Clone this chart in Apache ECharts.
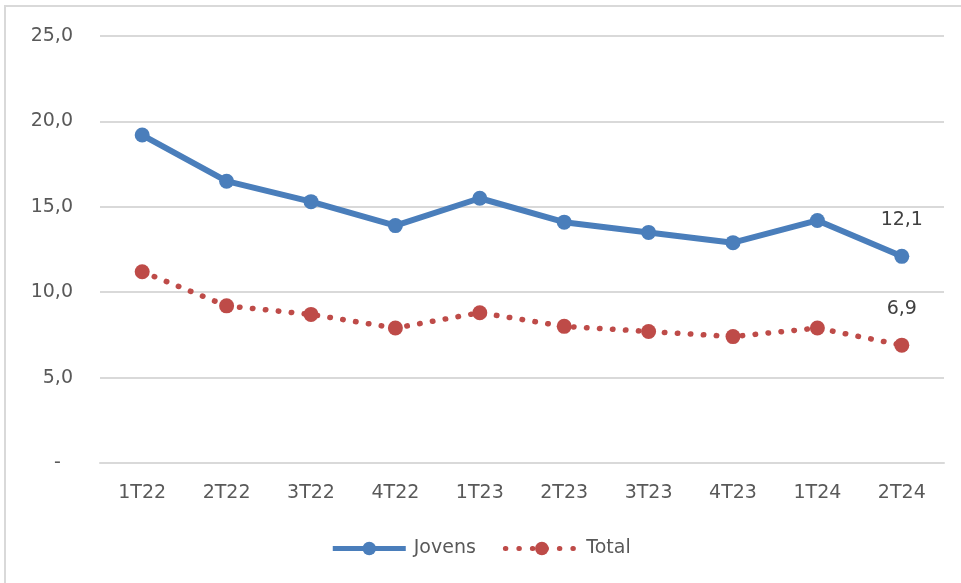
<!DOCTYPE html>
<html>
<head>
<meta charset="utf-8">
<script src="https://cdn.jsdelivr.net/npm/echarts@6/dist/echarts.min.js"></script>
<style>html,body{margin:0;padding:0;background:#fff}#c{width:961px;height:583px}</style>
</head>
<body>
<div id="c"></div>
<script>
const categories = ['1T22','2T22','3T22','4T22','1T23','2T23','3T23','4T23','1T24','2T24'];
const jovens = [19.2, 16.5, 15.3, 13.9, 15.5, 14.1, 13.5, 12.9, 14.2, 12.1];
const total = [11.2, 9.2, 8.7, 7.9, 8.8, 8.0, 7.7, 7.4, 7.9, 6.9];
const yTicks = [0, 5, 10, 15, 20, 25];

const FONT = '"DejaVu Sans", sans-serif';
const BLUE = '#4a7ebb', RED = '#be4b48';
const fmt = v => v.toFixed(1).replace('.', ',');
const chart = echarts.init(document.getElementById('c'), null, {renderer: 'canvas'});
chart.setOption({
  animation: false,
  textStyle: {fontFamily: FONT},
  graphic: [{
    type: 'rect', shape: {x: 5, y: 6, width: 1000, height: 700},
    style: {fill: 'none', stroke: '#d9d9d9', lineWidth: 2}, silent: true, z: -1
  }],
  grid: {left: 100, right: 17, top: 36, bottom: 120, containLabel: false},
  legend: {
    bottom: 20, left: 'center',
    itemWidth: 73, itemHeight: 17, itemGap: 27,
    textStyle: {color: '#595959', fontSize: 19, fontFamily: FONT, padding: [0, 0, 0, 3]},
    data: [
      {name: 'Jovens', lineStyle: {width: 5, color: BLUE}},
      {name: 'Total', lineStyle: {width: 5, color: RED, type: [0.5, 13], cap: 'round'}}
    ]
  },
  xAxis: {
    type: 'category', data: categories, boundaryGap: true,
    axisLine: {show: true, lineStyle: {color: '#d9d9d9', width: 2}},
    axisTick: {show: false},
    axisLabel: {color: '#595959', fontSize: 19, fontFamily: FONT, margin: 21}
  },
  yAxis: {
    type: 'value', min: yTicks[0], max: yTicks[yTicks.length - 1], interval: 5,
    axisLine: {show: false}, axisTick: {show: false},
    splitLine: {lineStyle: {color: '#d9d9d9', width: 2}},
    axisLabel: {
      color: '#595959', fontSize: 19, fontFamily: FONT, margin: 27,
      formatter: v => v === 0 ? '-  ' : fmt(v)
    }
  },
  series: [{
    name: 'Jovens', type: 'line', data: jovens,
    symbol: 'circle', symbolSize: 15,
    lineStyle: {color: BLUE, width: 6},
    itemStyle: {color: BLUE},
    label: {
      show: true, position: 'top', distance: 19, color: '#404040', fontSize: 19, fontFamily: FONT,
      formatter: p => p.dataIndex === categories.length - 1 ? fmt(p.value) : ''
    }
  }, {
    name: 'Total', type: 'line', data: total,
    symbol: 'circle', symbolSize: 15,
    lineStyle: {color: RED, width: 5.5, type: [0.5, 12.5], cap: 'round'},
    itemStyle: {color: RED},
    label: {
      show: true, position: 'top', distance: 19, color: '#404040', fontSize: 19, fontFamily: FONT,
      formatter: p => p.dataIndex === categories.length - 1 ? fmt(p.value) : ''
    }
  }]
});
</script>
</body>
</html>
